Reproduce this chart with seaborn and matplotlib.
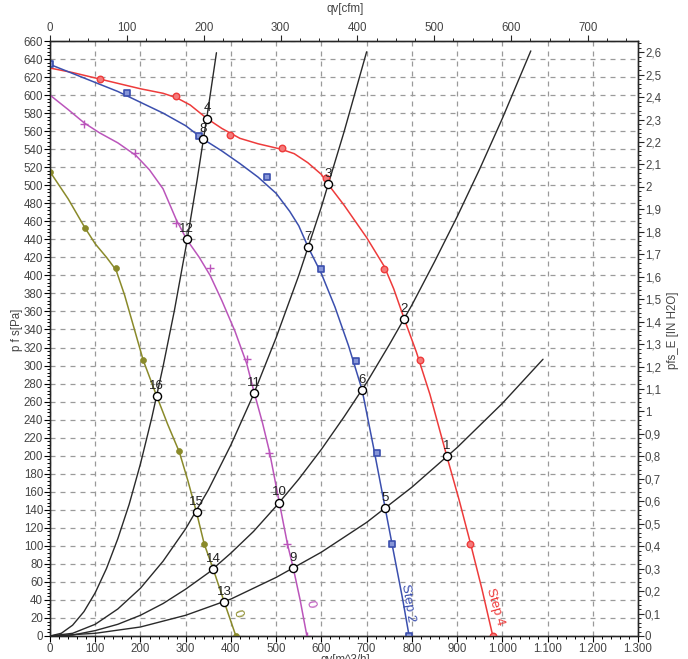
import numpy as np
import pandas as pd
import matplotlib
matplotlib.use("Agg")
import matplotlib.pyplot as plt
from matplotlib.ticker import MultipleLocator, FuncFormatter, FixedLocator
import seaborn as sns

# fan curves (q in m^3/h, p in Pa)
step4_q = [0, 50, 100, 150, 200, 250, 280, 310, 347, 380, 420, 460, 511, 540, 570, 600, 615, 650, 700, 739, 760, 783, 810, 840, 877, 905, 930, 955, 979]
step4_p = [630, 625, 619, 613, 607, 602, 597, 589, 574, 563, 552, 546, 540, 535, 525, 512, 501, 478, 442, 410, 385, 352, 315, 268, 200, 150, 102, 52, 0]
step4_mq = [110, 279, 397, 512, 610, 739, 819, 929, 979]
step4_mp = [618, 599, 556, 541, 508, 407, 306, 102, 0]

step2_q = [0, 50, 100, 150, 200, 250, 300, 339, 380, 420, 460, 500, 530, 550, 571, 600, 630, 660, 690, 715, 741, 760, 780, 794]
step2_p = [634, 624, 614, 604, 592, 580, 566, 551, 538, 524, 509, 491, 471, 455, 431, 402, 365, 322, 273, 210, 142, 92, 40, 0]
step2_mq = [0, 170, 329, 479, 599, 676, 724, 756, 794]
step2_mp = [634, 602, 555, 509, 407, 305, 203, 102, 0]

step1_q = [0, 40, 76, 110, 150, 190, 220, 250, 279, 302, 330, 354, 380, 409, 435, 452, 470, 485, 507, 525, 538, 553, 568]
step1_p = [600, 584, 569, 558, 547, 533, 517, 496, 462, 440, 420, 400, 372, 338, 302, 269, 236, 205, 148, 102, 75, 40, 0]
step1_mq = [76, 189, 279, 354, 435, 485, 525, 568]
step1_mp = [568, 536, 458, 408, 307, 203, 102, 0]

step0_q = [0, 40, 77, 100, 125, 146, 165, 185, 206, 236, 260, 286, 305, 324, 341, 361, 385, 411]
step0_p = [515, 485, 453, 435, 420, 406, 378, 343, 306, 266, 235, 204, 172, 137, 102, 74, 38, 0]
step0_mq = [0, 77, 146, 206, 286, 341, 411]
step0_mp = [515, 453, 408, 306, 205, 102, 0]

# system curves
sysA_q = [0, 25, 50, 75, 100, 125, 150, 175, 200, 225, 250, 275, 300, 325, 350, 368]
sysA_p = [0, 3, 12, 27, 48, 75, 108, 146, 191, 242, 299, 361, 430, 505, 586, 647]
sysB_q = [0, 50, 100, 150, 200, 250, 300, 350, 400, 450, 500, 550, 600, 650, 700]
sysB_p = [0, 3, 13, 30, 53, 83, 119, 162, 212, 268, 331, 400, 476, 559, 648]
sysC_q = [0, 50, 100, 150, 200, 250, 300, 350, 400, 450, 500, 550, 600, 650, 700, 750, 800, 850, 900, 950, 1000, 1063]
sysC_p = [0, 1, 6, 13, 23, 36, 52, 70, 92, 116, 144, 174, 207, 243, 281, 323, 367, 415, 465, 518, 574, 649]
sysD_q = [0, 100, 200, 300, 400, 500, 600, 700, 800, 900, 1000, 1090]
sysD_p = [0, 3, 10, 23, 41, 65, 93, 126, 165, 209, 258, 307]

# operating points
op_labels = ["1", "2", "3", "4", "5", "6", "7", "8", "9", "10", "11", "12", "13", "14", "15", "16"]
op_q = [877, 783, 615, 347, 741, 690, 571, 339, 538, 507, 452, 302, 385, 361, 324, 236]
op_p = [200, 352, 501, 574, 142, 273, 431, 551, 75, 148, 269, 440, 38, 74, 137, 266]

RED = "#ee3b3b"
BLUE = "#3b4fae"
PURPLE = "#bb55bb"
OLIVE = "#8a8a2a"
DARK = "#2a2a2a"

sns.set_style("white")
plt.rcParams["font.family"] = ["Liberation Sans", "DejaVu Sans"]
plt.rcParams["font.size"] = 8.5

fig = plt.figure(figsize=(6.88, 6.59), dpi=100)
ax = fig.add_axes([50 / 688, 23 / 659, 588 / 688, 595 / 659])

# grid
ax.set_xlim(0, 1300)
ax.set_ylim(0, 660)
ax.xaxis.set_major_locator(MultipleLocator(100))
ax.xaxis.set_minor_locator(MultipleLocator(20))
ax.yaxis.set_major_locator(MultipleLocator(20))
ax.yaxis.set_minor_locator(MultipleLocator(4))
ax.grid(True, which="major", color="#9a9a9a", linestyle=(0, (4, 4)), linewidth=0.9)

def draw_line(q, p, color, lw=1.1):
    df = pd.DataFrame({"q": q, "p": p})
    sns.lineplot(data=df, x="q", y="p", ax=ax, color=color, linewidth=lw,
                 sort=False, estimator=None, zorder=3)

for q, p in [(sysA_q, sysA_p), (sysB_q, sysB_p), (sysC_q, sysC_p), (sysD_q, sysD_p)]:
    draw_line(q, p, DARK, lw=1.0)

draw_line(step4_q, step4_p, RED)
draw_line(step2_q, step2_p, BLUE)
draw_line(step1_q, step1_p, PURPLE)
draw_line(step0_q, step0_p, OLIVE)

sns.scatterplot(x=step4_mq, y=step4_mp, ax=ax, marker="o", s=22, color="#f47a7a",
                edgecolor=RED, linewidth=1.0, zorder=4)
sns.scatterplot(x=step2_mq, y=step2_mp, ax=ax, marker="s", s=20, color="#8796d8",
                edgecolor=BLUE, linewidth=1.2, zorder=4)
sns.scatterplot(x=step1_mq, y=step1_mp, ax=ax, marker="+", s=40, color=PURPLE,
                linewidth=1.0, zorder=4)
sns.scatterplot(x=step0_mq, y=step0_mp, ax=ax, marker="o", s=18, color=OLIVE,
                edgecolor=OLIVE, linewidth=0.5, zorder=4)

sns.scatterplot(x=op_q, y=op_p, ax=ax, marker="o", s=34, color="white",
                edgecolor="black", linewidth=1.0, zorder=5)
for lab, q, p in zip(op_labels, op_q, op_p):
    ax.annotate(lab, (q, p), xytext=(0, 3), textcoords="offset points",
                ha="center", va="bottom", fontsize=9.5, color="#222222", zorder=6)

# curve names
ax.text(792, 37, "Step 2", color=BLUE, fontsize=9.5, rotation=-81,
        ha="center", va="center", rotation_mode="anchor")
ax.text(985, 33, "Step 4", color=RED, fontsize=9.5, rotation=-74,
        ha="center", va="center", rotation_mode="anchor")
ax.text(575, 35, "0", color=PURPLE, fontsize=9.5, rotation=-78,
        ha="center", va="center", rotation_mode="anchor")
ax.text(415, 25, "0", color=OLIVE, fontsize=9.5, rotation=-72,
        ha="center", va="center", rotation_mode="anchor")

# axes styling
tick_col = "#444444"
ax.xaxis.set_major_formatter(FuncFormatter(lambda v, pos: f"{int(v):,}".replace(",", ".")))
ax.tick_params(axis="both", which="major", direction="out", length=4, width=0.8,
               labelsize=8.3, labelcolor=tick_col, color="black", pad=1.0)
ax.tick_params(axis="both", which="minor", direction="out", length=2.5, width=0.7, color="black")
ax.set_xlabel("")
ax.set_ylabel("")
for s in ax.spines.values():
    s.set_color("black")
    s.set_linewidth(1.0)

# right axis in inch H2O
axr = ax.twinx()
axr.set_ylim(0, 660 / 249.089)
axr.yaxis.set_major_locator(FixedLocator([i / 10 for i in range(27)]))
axr.yaxis.set_minor_locator(MultipleLocator(0.02))
axr.yaxis.set_major_formatter(FuncFormatter(lambda v, pos: f"{v:.1f}".rstrip("0").rstrip(".").replace(".", ",")))
axr.tick_params(axis="y", which="major", direction="out", length=4, width=0.8,
                labelsize=8.3, labelcolor=tick_col, pad=1.0)
axr.tick_params(axis="y", which="minor", direction="out", length=2.5, width=0.7)
axr.grid(False)

# top axis in cfm
axt = ax.twiny()
axt.set_xlim(0, 1300 / 1.69901)
axt.xaxis.set_major_locator(MultipleLocator(100))
axt.xaxis.set_minor_locator(MultipleLocator(25))
axt.tick_params(axis="x", which="major", direction="out", length=4, width=0.8,
                labelsize=8.3, labelcolor=tick_col, pad=1.0)
axt.tick_params(axis="x", which="minor", direction="out", length=2.5, width=0.7)
axt.grid(False)

fig.text(345 / 688, 1 - 9 / 659, "qv[cfm]", ha="center", va="center", fontsize=8.3, color=tick_col)
fig.text(345 / 688, 1 - 654.5 / 659, "qv[m^3/h]", ha="center", va="top", fontsize=8.3, color=tick_col)
fig.text(17 / 688, 1 - 330 / 659, "p f s[Pa]", ha="center", va="center", rotation=90,
         fontsize=8.3, color=tick_col)
fig.text(673 / 688, 1 - 330 / 659, "pfs_E [IN H2O]", ha="center", va="center", rotation=90,
         fontsize=8.3, color=tick_col)

fig.savefig("out.png", dpi=100)
